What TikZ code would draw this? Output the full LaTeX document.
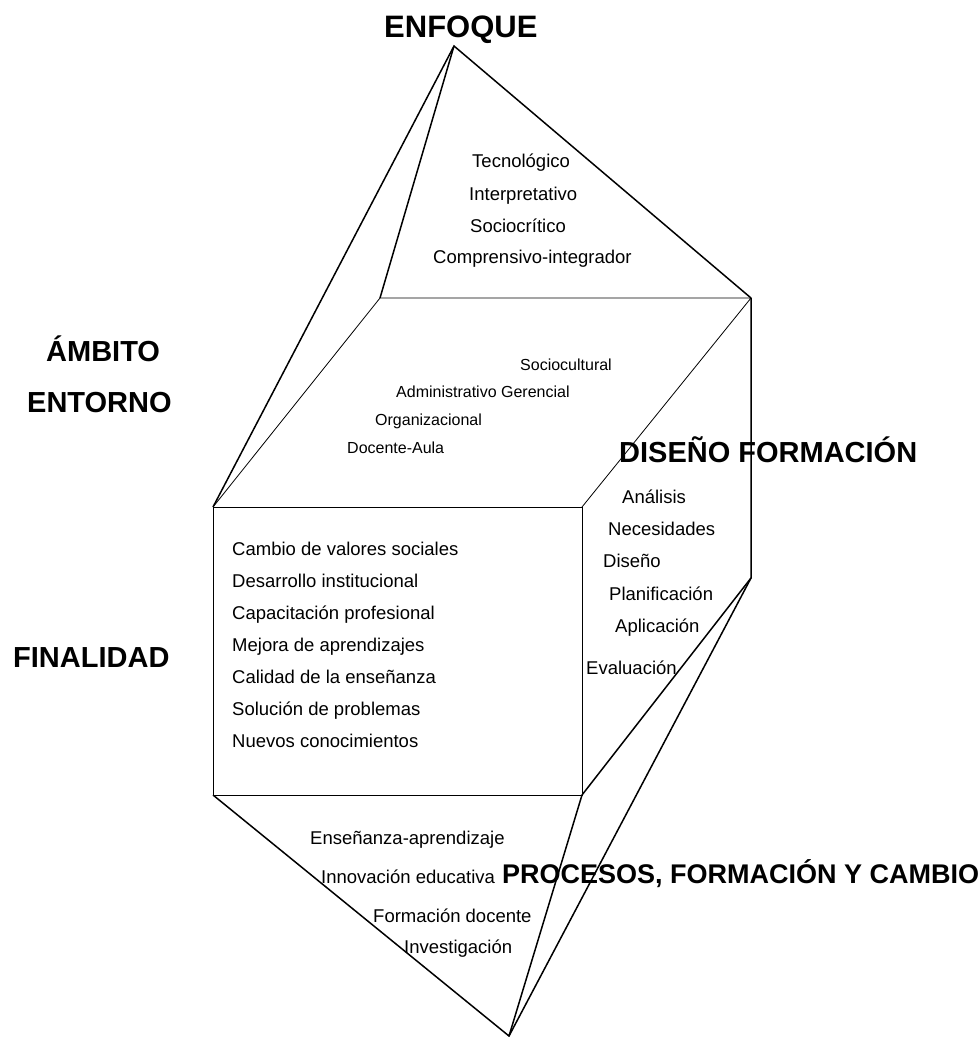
\documentclass[tikz,border=0pt]{standalone}
\usepackage{fontspec}
\setmainfont{Liberation Sans}
\usetikzlibrary{positioning}

\begin{document}
\begin{tikzpicture}[x=1pt, y=-1pt,
  thinedge/.style={line width=0.8pt},
  boldedge/.style={line width=1.5pt},
  item/.style={anchor=base west, inner sep=0pt, font=\fontsize{18.5}{20}\selectfont},
  smallitem/.style={anchor=base west, inner sep=0pt, font=\fontsize{16}{18}\selectfont},
  heading/.style={anchor=base west, inner sep=0pt, font=\fontsize{29}{32}\selectfont\bfseries}]
  \useasboundingbox (0,0) rectangle (979,1037);

  % corners of the solid
  \coordinate (top)  at (454,46);
  \coordinate (bot)  at (509,1036);
  \coordinate (bkL)  at (380,298);
  \coordinate (bkR)  at (751,298);
  \coordinate (ftL)  at (213,507);
  \coordinate (ftR)  at (582,507);
  \coordinate (fbL)  at (213,795);
  \coordinate (fbR)  at (582,795);
  \coordinate (rbR)  at (751,578);

  % cube
  \draw[thinedge] (ftL) rectangle (fbR);
  \draw[thinedge] (ftL) -- (bkL) -- (bkR) -- (ftR);
  \draw[boldedge] (bkR) -- (rbR) -- (fbR);

  % upper and lower pyramids
  \draw[boldedge] (ftL) -- (top) -- (bkR);
  \draw[boldedge] (bkL) -- (top);
  \draw[boldedge] (fbL) -- (bot) -- (fbR);
  \draw[boldedge] (rbR) -- (bot);

  % headings
  \node[heading, font=\fontsize{31}{34}\selectfont\bfseries] (enfoque) at (384,37) {ENFOQUE};
  \node[heading] (ambito)   at (46,361)  {ÁMBITO};
  \node[heading] (entorno)  at (27,412)  {ENTORNO};
  \node[heading] (diseno)   at (619,462) {DISEÑO FORMACIÓN};
  \node[heading] (finalidad) at (13,667) {FINALIDAD};
  \node[heading, font=\fontsize{27}{30}\selectfont\bfseries] (procesos) at (502,883)
       {PROCESOS, FORMACIÓN Y CAMBIO};

  % enfoque
  \node[item] (tecno)  at (472,167) {Tecnológico};
  \node[item] (interp) at (469,200) {Interpretativo};
  \node[item] (socio)  at (470,232) {Sociocrítico};
  \node[item] (compr)  at (433,263) {Comprensivo-integrador};

  % ambito
  \node[smallitem] (sociocult) at (520,370) {Sociocultural};
  \node[smallitem] (admin)     at (396,397) {Administrativo Gerencial};
  \node[smallitem] (organiz)   at (375,425) {Organizacional};
  \node[smallitem] (docaula)   at (347,453) {Docente-Aula};

  % finalidad
  \node[item] (cambio)  at (232,555) {Cambio de valores sociales};
  \node[item] (desarr)  at (232,587) {Desarrollo institucional};
  \node[item] (capac)   at (232,619) {Capacitación profesional};
  \node[item] (mejora)  at (232,651) {Mejora de aprendizajes};
  \node[item] (calidad) at (232,683) {Calidad de la enseñanza};
  \node[item] (soluc)   at (232,715) {Solución de problemas};
  \node[item] (nuevos)  at (232,747) {Nuevos conocimientos};

  % diseno
  \node[item] (analisis) at (622,503) {Análisis};
  \node[item] (neces)    at (608,535) {Necesidades};
  \node[item] (disen)    at (603,567) {Diseño};
  \node[item] (planif)   at (609,600) {Planificación};
  \node[item] (aplic)    at (615,632) {Aplicación};
  \node[item] (evalua)   at (586,674) {Evaluación};

  % procesos
  \node[item] (ensen)  at (310,844) {Enseñanza-aprendizaje};
  \node[item] (innov)  at (321,883) {Innovación educativa};
  \node[item] (formac) at (373,922) {Formación docente};
  \node[item] (invest) at (404,953) {Investigación};
\end{tikzpicture}
\end{document}
